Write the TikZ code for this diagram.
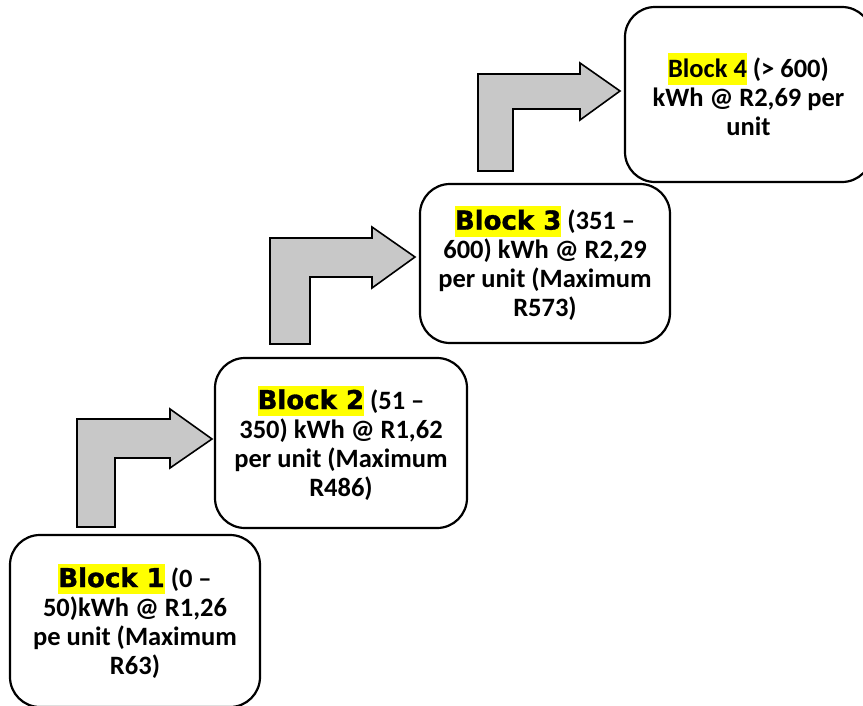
\documentclass[tikz,border=0pt]{standalone}
\usepackage{fontspec}
\setmainfont{Carlito}
\newfontfamily\blkfont{DejaVu Sans}[BoldFeatures={FakeBold=1.2}]
\usepackage{xcolor}
\definecolor{hlyellow}{HTML}{FFFF00}
\definecolor{arrowgray}{HTML}{C8C8C8}
\newcommand{\blkname}[1]{{\setlength{\fboxsep}{0pt}\colorbox{hlyellow}{\fontsize{26}{29}\blkfont\bfseries\rule[-0.27em]{0pt}{1.16em}#1}}}
\newcommand{\calname}[1]{{\setlength{\fboxsep}{0pt}\colorbox{hlyellow}{\rule[-0.28em]{0pt}{1.22em}#1}}}
\tikzset{
  block/.style={draw=black, fill=white, line width=2.2pt, rounded corners=30pt,
    align=center, inner sep=0pt, font=\fontsize{26.5}{29}\selectfont\bfseries},
  bentarrow/.style={draw=black, fill=arrowgray, line width=1.6pt, line join=miter}
}
\begin{document}
\begin{tikzpicture}[x=1pt,y=-1pt]
\useasboundingbox (0,0) rectangle (863,705);
\clip (0,0) rectangle (863,705);
% bent block arrows
\draw[bentarrow] (77,527) -- (77,419) -- (170,419) -- (170,409) -- (212,439) -- (170,468) -- (170,458) -- (115,458) -- (115,527) -- cycle;
\draw[bentarrow] (270,344) -- (270,238) -- (372,238) -- (372,227) -- (415,257) -- (372,288) -- (372,277) -- (310,277) -- (310,344) -- cycle;
\draw[bentarrow] (478,171) -- (478,74) -- (580,74) -- (580,63) -- (620,91) -- (580,120) -- (580,109) -- (513,109) -- (513,171) -- cycle;
% blocks
\node[block, minimum width=250pt, minimum height=172pt] (b1) at (135,621)
  {\blkname{Block 1} (0 –\\50)kWh @ R1,26\\pe unit (Maximum\\R63)};
\node[block, minimum width=252pt, minimum height=170pt] (b2) at (341,443)
  {\blkname{Block 2} (51 –\\350) kWh @ R1,62\\per unit (Maximum\\R486)};
\node[block, minimum width=250pt, minimum height=159pt] (b3) at (545,263.5)
  {\blkname{Block 3} (351 –\\600) kWh @ R2,29\\per unit (Maximum\\R573)};
\node[block, minimum width=247pt, minimum height=175pt] (b4) at (748.5,94.5)
  {\calname{Block 4} (> 600)\\kWh @ R2,69 per\\unit};
\end{tikzpicture}
\end{document}
